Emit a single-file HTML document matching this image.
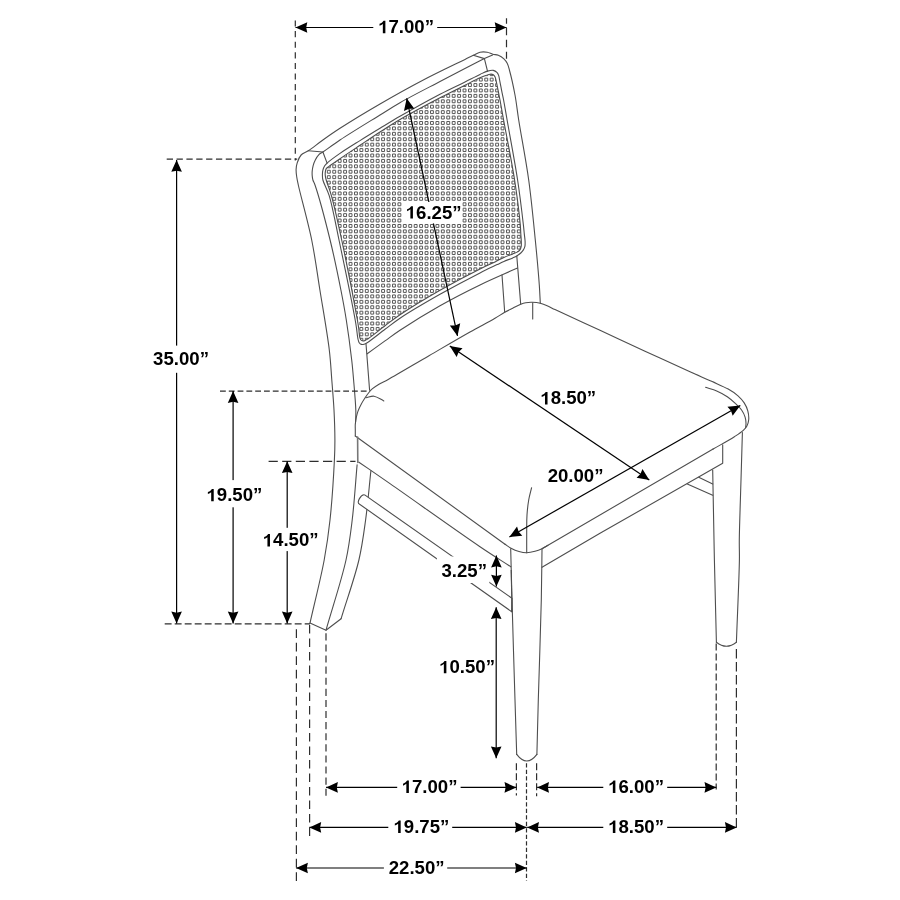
<!DOCTYPE html>
<html><head><meta charset="utf-8"><style>
html,body{margin:0;padding:0;background:#fff;width:900px;height:900px;overflow:hidden}
svg{display:block;font-family:"Liberation Sans",sans-serif;will-change:transform}
</style></head><body>
<svg width="900" height="900" viewBox="0 0 900 900">
<defs>
<clipPath id="cclip"><path d="M328.7,166.6 C331.03,164.88 335.68,161.66 340,158.7 C345.7,154.8 353.33,149.75 360,145.3 C366.66,140.85 373.3,136.32 380,132 C386.64,127.72 392.11,124.1 400,119.5 C410.97,113.11 428.18,103.98 440,97.8 C449.27,92.95 457.72,88.83 465,85.2 C470.63,82.39 475.43,79.73 480,77.8 C483.68,76.25 487.76,74.42 490.2,74.2 C491.51,74.08 492.47,74.22 493.3,74.7 C494.09,75.15 494.62,75.94 495.1,76.9 C495.76,78.23 495.97,80.33 496.4,82.2 C496.88,84.3 497.35,86.67 497.8,88.9 C498.25,91.13 498.7,93.6 499.1,95.6 C499.42,97.22 499.62,98 500,100 C500.82,104.25 502.06,111.55 503.6,120 C506.26,134.64 511.72,161.4 514.6,180 C517.08,196.04 519.46,215.76 520.3,225 C520.67,229.1 520.63,231.05 520.8,233.9 C520.96,236.53 521.25,239.26 521.3,241.5 C521.34,243.28 521.47,244.84 521.2,246.3 C520.96,247.61 520.59,248.92 519.9,249.9 C519.24,250.83 518.26,251.47 517.2,252.1 C515.96,252.84 514.53,253.21 512.8,253.9 C510.35,254.88 506.84,256.08 503.9,257.4 C500.9,258.74 498.37,260.26 495,261.9 C490.66,264.01 486.15,265.83 480,268.9 C469.82,273.98 453.22,282.64 440,290.2 C426.55,297.89 410.02,307.94 400,314.7 C393.68,318.96 390.13,321.94 385,325.8 C379.52,329.92 371.85,336.26 368.1,338.7 C366.36,339.83 365.34,340.7 364.1,340.9 C363.14,341.05 362.09,340.89 361.4,340.4 C360.67,339.89 360.29,338.98 359.9,337.8 C359.22,335.76 359.22,331.86 358.8,328.9 C358.38,325.93 358.18,324.44 357.4,320 C355.04,306.65 346.57,262.73 341.7,240 C338.06,223 334.49,206.56 331.4,195.6 C329.54,189.02 327.17,183.63 326.2,180 C325.69,178.1 325.44,177 325.3,175.6 C325.17,174.35 325.12,173.19 325.3,172 C325.48,170.79 325.77,169.32 326.4,168.4 C326.96,167.59 327.63,167.39 328.7,166.6Z"/></clipPath>
</defs>
<rect width="900" height="900" fill="#fff"/>
<path d="M321.92,170.29h2.9v2.9h-2.9zM321.92,175.71h2.9v2.9h-2.9zM327.35,164.87h2.9v2.9h-2.9zM327.35,170.29h2.9v2.9h-2.9zM327.35,175.71h2.9v2.9h-2.9zM327.35,181.13h2.9v2.9h-2.9zM327.35,186.55h2.9v2.9h-2.9zM327.35,191.97h2.9v2.9h-2.9zM332.78,159.45h2.9v2.9h-2.9zM332.78,164.87h2.9v2.9h-2.9zM332.78,170.29h2.9v2.9h-2.9zM332.78,175.71h2.9v2.9h-2.9zM332.78,181.13h2.9v2.9h-2.9zM332.78,186.55h2.9v2.9h-2.9zM332.78,191.97h2.9v2.9h-2.9zM332.78,197.39h2.9v2.9h-2.9zM332.78,202.81h2.9v2.9h-2.9zM332.78,208.23h2.9v2.9h-2.9zM332.78,213.65h2.9v2.9h-2.9zM332.78,219.07h2.9v2.9h-2.9zM338.21,154.03h2.9v2.9h-2.9zM338.21,159.45h2.9v2.9h-2.9zM338.21,164.87h2.9v2.9h-2.9zM338.21,170.29h2.9v2.9h-2.9zM338.21,175.71h2.9v2.9h-2.9zM338.21,181.13h2.9v2.9h-2.9zM338.21,186.55h2.9v2.9h-2.9zM338.21,191.97h2.9v2.9h-2.9zM338.21,197.39h2.9v2.9h-2.9zM338.21,202.81h2.9v2.9h-2.9zM338.21,208.23h2.9v2.9h-2.9zM338.21,213.65h2.9v2.9h-2.9zM338.21,219.07h2.9v2.9h-2.9zM338.21,224.49h2.9v2.9h-2.9zM338.21,229.91h2.9v2.9h-2.9zM338.21,235.33h2.9v2.9h-2.9zM338.21,240.75h2.9v2.9h-2.9zM343.64,154.03h2.9v2.9h-2.9zM343.64,159.45h2.9v2.9h-2.9zM343.64,164.87h2.9v2.9h-2.9zM343.64,170.29h2.9v2.9h-2.9zM343.64,175.71h2.9v2.9h-2.9zM343.64,181.13h2.9v2.9h-2.9zM343.64,186.55h2.9v2.9h-2.9zM343.64,191.97h2.9v2.9h-2.9zM343.64,197.39h2.9v2.9h-2.9zM343.64,202.81h2.9v2.9h-2.9zM343.64,208.23h2.9v2.9h-2.9zM343.64,213.65h2.9v2.9h-2.9zM343.64,219.07h2.9v2.9h-2.9zM343.64,224.49h2.9v2.9h-2.9zM343.64,229.91h2.9v2.9h-2.9zM343.64,235.33h2.9v2.9h-2.9zM343.64,240.75h2.9v2.9h-2.9zM343.64,246.17h2.9v2.9h-2.9zM343.64,251.59h2.9v2.9h-2.9zM343.64,257.01h2.9v2.9h-2.9zM343.64,262.43h2.9v2.9h-2.9zM343.64,267.85h2.9v2.9h-2.9zM349.07,148.61h2.9v2.9h-2.9zM349.07,154.03h2.9v2.9h-2.9zM349.07,159.45h2.9v2.9h-2.9zM349.07,164.87h2.9v2.9h-2.9zM349.07,170.29h2.9v2.9h-2.9zM349.07,175.71h2.9v2.9h-2.9zM349.07,181.13h2.9v2.9h-2.9zM349.07,186.55h2.9v2.9h-2.9zM349.07,191.97h2.9v2.9h-2.9zM349.07,197.39h2.9v2.9h-2.9zM349.07,202.81h2.9v2.9h-2.9zM349.07,208.23h2.9v2.9h-2.9zM349.07,213.65h2.9v2.9h-2.9zM349.07,219.07h2.9v2.9h-2.9zM349.07,224.49h2.9v2.9h-2.9zM349.07,229.91h2.9v2.9h-2.9zM349.07,235.33h2.9v2.9h-2.9zM349.07,240.75h2.9v2.9h-2.9zM349.07,246.17h2.9v2.9h-2.9zM349.07,251.59h2.9v2.9h-2.9zM349.07,257.01h2.9v2.9h-2.9zM349.07,262.43h2.9v2.9h-2.9zM349.07,267.85h2.9v2.9h-2.9zM349.07,273.27h2.9v2.9h-2.9zM349.07,278.69h2.9v2.9h-2.9zM349.07,284.11h2.9v2.9h-2.9zM349.07,289.53h2.9v2.9h-2.9zM349.07,294.95h2.9v2.9h-2.9zM354.5,143.19h2.9v2.9h-2.9zM354.5,148.61h2.9v2.9h-2.9zM354.5,154.03h2.9v2.9h-2.9zM354.5,159.45h2.9v2.9h-2.9zM354.5,164.87h2.9v2.9h-2.9zM354.5,170.29h2.9v2.9h-2.9zM354.5,175.71h2.9v2.9h-2.9zM354.5,181.13h2.9v2.9h-2.9zM354.5,186.55h2.9v2.9h-2.9zM354.5,191.97h2.9v2.9h-2.9zM354.5,197.39h2.9v2.9h-2.9zM354.5,202.81h2.9v2.9h-2.9zM354.5,208.23h2.9v2.9h-2.9zM354.5,213.65h2.9v2.9h-2.9zM354.5,219.07h2.9v2.9h-2.9zM354.5,224.49h2.9v2.9h-2.9zM354.5,229.91h2.9v2.9h-2.9zM354.5,235.33h2.9v2.9h-2.9zM354.5,240.75h2.9v2.9h-2.9zM354.5,246.17h2.9v2.9h-2.9zM354.5,251.59h2.9v2.9h-2.9zM354.5,257.01h2.9v2.9h-2.9zM354.5,262.43h2.9v2.9h-2.9zM354.5,267.85h2.9v2.9h-2.9zM354.5,273.27h2.9v2.9h-2.9zM354.5,278.69h2.9v2.9h-2.9zM354.5,284.11h2.9v2.9h-2.9zM354.5,289.53h2.9v2.9h-2.9zM354.5,294.95h2.9v2.9h-2.9zM354.5,300.37h2.9v2.9h-2.9zM354.5,305.79h2.9v2.9h-2.9zM354.5,311.21h2.9v2.9h-2.9zM354.5,316.63h2.9v2.9h-2.9zM354.5,322.05h2.9v2.9h-2.9zM354.5,327.47h2.9v2.9h-2.9zM359.92,143.19h2.9v2.9h-2.9zM359.92,148.61h2.9v2.9h-2.9zM359.92,154.03h2.9v2.9h-2.9zM359.92,159.45h2.9v2.9h-2.9zM359.92,164.87h2.9v2.9h-2.9zM359.92,170.29h2.9v2.9h-2.9zM359.92,175.71h2.9v2.9h-2.9zM359.92,181.13h2.9v2.9h-2.9zM359.92,186.55h2.9v2.9h-2.9zM359.92,191.97h2.9v2.9h-2.9zM359.92,197.39h2.9v2.9h-2.9zM359.92,202.81h2.9v2.9h-2.9zM359.92,208.23h2.9v2.9h-2.9zM359.92,213.65h2.9v2.9h-2.9zM359.92,219.07h2.9v2.9h-2.9zM359.92,224.49h2.9v2.9h-2.9zM359.92,229.91h2.9v2.9h-2.9zM359.92,235.33h2.9v2.9h-2.9zM359.92,240.75h2.9v2.9h-2.9zM359.92,246.17h2.9v2.9h-2.9zM359.92,251.59h2.9v2.9h-2.9zM359.92,257.01h2.9v2.9h-2.9zM359.92,262.43h2.9v2.9h-2.9zM359.92,267.85h2.9v2.9h-2.9zM359.92,273.27h2.9v2.9h-2.9zM359.92,278.69h2.9v2.9h-2.9zM359.92,284.11h2.9v2.9h-2.9zM359.92,289.53h2.9v2.9h-2.9zM359.92,294.95h2.9v2.9h-2.9zM359.92,300.37h2.9v2.9h-2.9zM359.92,305.79h2.9v2.9h-2.9zM359.92,311.21h2.9v2.9h-2.9zM359.92,316.63h2.9v2.9h-2.9zM359.92,322.05h2.9v2.9h-2.9zM359.92,327.47h2.9v2.9h-2.9zM359.92,332.89h2.9v2.9h-2.9zM359.92,338.31h2.9v2.9h-2.9zM365.35,137.77h2.9v2.9h-2.9zM365.35,143.19h2.9v2.9h-2.9zM365.35,148.61h2.9v2.9h-2.9zM365.35,154.03h2.9v2.9h-2.9zM365.35,159.45h2.9v2.9h-2.9zM365.35,164.87h2.9v2.9h-2.9zM365.35,170.29h2.9v2.9h-2.9zM365.35,175.71h2.9v2.9h-2.9zM365.35,181.13h2.9v2.9h-2.9zM365.35,186.55h2.9v2.9h-2.9zM365.35,191.97h2.9v2.9h-2.9zM365.35,197.39h2.9v2.9h-2.9zM365.35,202.81h2.9v2.9h-2.9zM365.35,208.23h2.9v2.9h-2.9zM365.35,213.65h2.9v2.9h-2.9zM365.35,219.07h2.9v2.9h-2.9zM365.35,224.49h2.9v2.9h-2.9zM365.35,229.91h2.9v2.9h-2.9zM365.35,235.33h2.9v2.9h-2.9zM365.35,240.75h2.9v2.9h-2.9zM365.35,246.17h2.9v2.9h-2.9zM365.35,251.59h2.9v2.9h-2.9zM365.35,257.01h2.9v2.9h-2.9zM365.35,262.43h2.9v2.9h-2.9zM365.35,267.85h2.9v2.9h-2.9zM365.35,273.27h2.9v2.9h-2.9zM365.35,278.69h2.9v2.9h-2.9zM365.35,284.11h2.9v2.9h-2.9zM365.35,289.53h2.9v2.9h-2.9zM365.35,294.95h2.9v2.9h-2.9zM365.35,300.37h2.9v2.9h-2.9zM365.35,305.79h2.9v2.9h-2.9zM365.35,311.21h2.9v2.9h-2.9zM365.35,316.63h2.9v2.9h-2.9zM365.35,322.05h2.9v2.9h-2.9zM365.35,327.47h2.9v2.9h-2.9zM365.35,332.89h2.9v2.9h-2.9zM365.35,338.31h2.9v2.9h-2.9zM370.78,132.35h2.9v2.9h-2.9zM370.78,137.77h2.9v2.9h-2.9zM370.78,143.19h2.9v2.9h-2.9zM370.78,148.61h2.9v2.9h-2.9zM370.78,154.03h2.9v2.9h-2.9zM370.78,159.45h2.9v2.9h-2.9zM370.78,164.87h2.9v2.9h-2.9zM370.78,170.29h2.9v2.9h-2.9zM370.78,175.71h2.9v2.9h-2.9zM370.78,181.13h2.9v2.9h-2.9zM370.78,186.55h2.9v2.9h-2.9zM370.78,191.97h2.9v2.9h-2.9zM370.78,197.39h2.9v2.9h-2.9zM370.78,202.81h2.9v2.9h-2.9zM370.78,208.23h2.9v2.9h-2.9zM370.78,213.65h2.9v2.9h-2.9zM370.78,219.07h2.9v2.9h-2.9zM370.78,224.49h2.9v2.9h-2.9zM370.78,229.91h2.9v2.9h-2.9zM370.78,235.33h2.9v2.9h-2.9zM370.78,240.75h2.9v2.9h-2.9zM370.78,246.17h2.9v2.9h-2.9zM370.78,251.59h2.9v2.9h-2.9zM370.78,257.01h2.9v2.9h-2.9zM370.78,262.43h2.9v2.9h-2.9zM370.78,267.85h2.9v2.9h-2.9zM370.78,273.27h2.9v2.9h-2.9zM370.78,278.69h2.9v2.9h-2.9zM370.78,284.11h2.9v2.9h-2.9zM370.78,289.53h2.9v2.9h-2.9zM370.78,294.95h2.9v2.9h-2.9zM370.78,300.37h2.9v2.9h-2.9zM370.78,305.79h2.9v2.9h-2.9zM370.78,311.21h2.9v2.9h-2.9zM370.78,316.63h2.9v2.9h-2.9zM370.78,322.05h2.9v2.9h-2.9zM370.78,327.47h2.9v2.9h-2.9zM370.78,332.89h2.9v2.9h-2.9zM370.78,338.31h2.9v2.9h-2.9zM376.21,132.35h2.9v2.9h-2.9zM376.21,137.77h2.9v2.9h-2.9zM376.21,143.19h2.9v2.9h-2.9zM376.21,148.61h2.9v2.9h-2.9zM376.21,154.03h2.9v2.9h-2.9zM376.21,159.45h2.9v2.9h-2.9zM376.21,164.87h2.9v2.9h-2.9zM376.21,170.29h2.9v2.9h-2.9zM376.21,175.71h2.9v2.9h-2.9zM376.21,181.13h2.9v2.9h-2.9zM376.21,186.55h2.9v2.9h-2.9zM376.21,191.97h2.9v2.9h-2.9zM376.21,197.39h2.9v2.9h-2.9zM376.21,202.81h2.9v2.9h-2.9zM376.21,208.23h2.9v2.9h-2.9zM376.21,213.65h2.9v2.9h-2.9zM376.21,219.07h2.9v2.9h-2.9zM376.21,224.49h2.9v2.9h-2.9zM376.21,229.91h2.9v2.9h-2.9zM376.21,235.33h2.9v2.9h-2.9zM376.21,240.75h2.9v2.9h-2.9zM376.21,246.17h2.9v2.9h-2.9zM376.21,251.59h2.9v2.9h-2.9zM376.21,257.01h2.9v2.9h-2.9zM376.21,262.43h2.9v2.9h-2.9zM376.21,267.85h2.9v2.9h-2.9zM376.21,273.27h2.9v2.9h-2.9zM376.21,278.69h2.9v2.9h-2.9zM376.21,284.11h2.9v2.9h-2.9zM376.21,289.53h2.9v2.9h-2.9zM376.21,294.95h2.9v2.9h-2.9zM376.21,300.37h2.9v2.9h-2.9zM376.21,305.79h2.9v2.9h-2.9zM376.21,311.21h2.9v2.9h-2.9zM376.21,316.63h2.9v2.9h-2.9zM376.21,322.05h2.9v2.9h-2.9zM376.21,327.47h2.9v2.9h-2.9zM376.21,332.89h2.9v2.9h-2.9zM381.64,126.93h2.9v2.9h-2.9zM381.64,132.35h2.9v2.9h-2.9zM381.64,137.77h2.9v2.9h-2.9zM381.64,143.19h2.9v2.9h-2.9zM381.64,148.61h2.9v2.9h-2.9zM381.64,154.03h2.9v2.9h-2.9zM381.64,159.45h2.9v2.9h-2.9zM381.64,164.87h2.9v2.9h-2.9zM381.64,170.29h2.9v2.9h-2.9zM381.64,175.71h2.9v2.9h-2.9zM381.64,181.13h2.9v2.9h-2.9zM381.64,186.55h2.9v2.9h-2.9zM381.64,191.97h2.9v2.9h-2.9zM381.64,197.39h2.9v2.9h-2.9zM381.64,202.81h2.9v2.9h-2.9zM381.64,208.23h2.9v2.9h-2.9zM381.64,213.65h2.9v2.9h-2.9zM381.64,219.07h2.9v2.9h-2.9zM381.64,224.49h2.9v2.9h-2.9zM381.64,229.91h2.9v2.9h-2.9zM381.64,235.33h2.9v2.9h-2.9zM381.64,240.75h2.9v2.9h-2.9zM381.64,246.17h2.9v2.9h-2.9zM381.64,251.59h2.9v2.9h-2.9zM381.64,257.01h2.9v2.9h-2.9zM381.64,262.43h2.9v2.9h-2.9zM381.64,267.85h2.9v2.9h-2.9zM381.64,273.27h2.9v2.9h-2.9zM381.64,278.69h2.9v2.9h-2.9zM381.64,284.11h2.9v2.9h-2.9zM381.64,289.53h2.9v2.9h-2.9zM381.64,294.95h2.9v2.9h-2.9zM381.64,300.37h2.9v2.9h-2.9zM381.64,305.79h2.9v2.9h-2.9zM381.64,311.21h2.9v2.9h-2.9zM381.64,316.63h2.9v2.9h-2.9zM381.64,322.05h2.9v2.9h-2.9zM381.64,327.47h2.9v2.9h-2.9zM387.07,121.51h2.9v2.9h-2.9zM387.07,126.93h2.9v2.9h-2.9zM387.07,132.35h2.9v2.9h-2.9zM387.07,137.77h2.9v2.9h-2.9zM387.07,143.19h2.9v2.9h-2.9zM387.07,148.61h2.9v2.9h-2.9zM387.07,154.03h2.9v2.9h-2.9zM387.07,159.45h2.9v2.9h-2.9zM387.07,164.87h2.9v2.9h-2.9zM387.07,170.29h2.9v2.9h-2.9zM387.07,175.71h2.9v2.9h-2.9zM387.07,181.13h2.9v2.9h-2.9zM387.07,186.55h2.9v2.9h-2.9zM387.07,191.97h2.9v2.9h-2.9zM387.07,197.39h2.9v2.9h-2.9zM387.07,202.81h2.9v2.9h-2.9zM387.07,208.23h2.9v2.9h-2.9zM387.07,213.65h2.9v2.9h-2.9zM387.07,219.07h2.9v2.9h-2.9zM387.07,224.49h2.9v2.9h-2.9zM387.07,229.91h2.9v2.9h-2.9zM387.07,235.33h2.9v2.9h-2.9zM387.07,240.75h2.9v2.9h-2.9zM387.07,246.17h2.9v2.9h-2.9zM387.07,251.59h2.9v2.9h-2.9zM387.07,257.01h2.9v2.9h-2.9zM387.07,262.43h2.9v2.9h-2.9zM387.07,267.85h2.9v2.9h-2.9zM387.07,273.27h2.9v2.9h-2.9zM387.07,278.69h2.9v2.9h-2.9zM387.07,284.11h2.9v2.9h-2.9zM387.07,289.53h2.9v2.9h-2.9zM387.07,294.95h2.9v2.9h-2.9zM387.07,300.37h2.9v2.9h-2.9zM387.07,305.79h2.9v2.9h-2.9zM387.07,311.21h2.9v2.9h-2.9zM387.07,316.63h2.9v2.9h-2.9zM387.07,322.05h2.9v2.9h-2.9zM392.5,121.51h2.9v2.9h-2.9zM392.5,126.93h2.9v2.9h-2.9zM392.5,132.35h2.9v2.9h-2.9zM392.5,137.77h2.9v2.9h-2.9zM392.5,143.19h2.9v2.9h-2.9zM392.5,148.61h2.9v2.9h-2.9zM392.5,154.03h2.9v2.9h-2.9zM392.5,159.45h2.9v2.9h-2.9zM392.5,164.87h2.9v2.9h-2.9zM392.5,170.29h2.9v2.9h-2.9zM392.5,175.71h2.9v2.9h-2.9zM392.5,181.13h2.9v2.9h-2.9zM392.5,186.55h2.9v2.9h-2.9zM392.5,191.97h2.9v2.9h-2.9zM392.5,197.39h2.9v2.9h-2.9zM392.5,202.81h2.9v2.9h-2.9zM392.5,208.23h2.9v2.9h-2.9zM392.5,213.65h2.9v2.9h-2.9zM392.5,219.07h2.9v2.9h-2.9zM392.5,224.49h2.9v2.9h-2.9zM392.5,229.91h2.9v2.9h-2.9zM392.5,235.33h2.9v2.9h-2.9zM392.5,240.75h2.9v2.9h-2.9zM392.5,246.17h2.9v2.9h-2.9zM392.5,251.59h2.9v2.9h-2.9zM392.5,257.01h2.9v2.9h-2.9zM392.5,262.43h2.9v2.9h-2.9zM392.5,267.85h2.9v2.9h-2.9zM392.5,273.27h2.9v2.9h-2.9zM392.5,278.69h2.9v2.9h-2.9zM392.5,284.11h2.9v2.9h-2.9zM392.5,289.53h2.9v2.9h-2.9zM392.5,294.95h2.9v2.9h-2.9zM392.5,300.37h2.9v2.9h-2.9zM392.5,305.79h2.9v2.9h-2.9zM392.5,311.21h2.9v2.9h-2.9zM392.5,316.63h2.9v2.9h-2.9zM392.5,322.05h2.9v2.9h-2.9zM397.93,116.09h2.9v2.9h-2.9zM397.93,121.51h2.9v2.9h-2.9zM397.93,126.93h2.9v2.9h-2.9zM397.93,132.35h2.9v2.9h-2.9zM397.93,137.77h2.9v2.9h-2.9zM397.93,143.19h2.9v2.9h-2.9zM397.93,148.61h2.9v2.9h-2.9zM397.93,154.03h2.9v2.9h-2.9zM397.93,159.45h2.9v2.9h-2.9zM397.93,164.87h2.9v2.9h-2.9zM397.93,170.29h2.9v2.9h-2.9zM397.93,175.71h2.9v2.9h-2.9zM397.93,181.13h2.9v2.9h-2.9zM397.93,186.55h2.9v2.9h-2.9zM397.93,191.97h2.9v2.9h-2.9zM397.93,197.39h2.9v2.9h-2.9zM397.93,202.81h2.9v2.9h-2.9zM397.93,208.23h2.9v2.9h-2.9zM397.93,213.65h2.9v2.9h-2.9zM397.93,219.07h2.9v2.9h-2.9zM397.93,224.49h2.9v2.9h-2.9zM397.93,229.91h2.9v2.9h-2.9zM397.93,235.33h2.9v2.9h-2.9zM397.93,240.75h2.9v2.9h-2.9zM397.93,246.17h2.9v2.9h-2.9zM397.93,251.59h2.9v2.9h-2.9zM397.93,257.01h2.9v2.9h-2.9zM397.93,262.43h2.9v2.9h-2.9zM397.93,267.85h2.9v2.9h-2.9zM397.93,273.27h2.9v2.9h-2.9zM397.93,278.69h2.9v2.9h-2.9zM397.93,284.11h2.9v2.9h-2.9zM397.93,289.53h2.9v2.9h-2.9zM397.93,294.95h2.9v2.9h-2.9zM397.93,300.37h2.9v2.9h-2.9zM397.93,305.79h2.9v2.9h-2.9zM397.93,311.21h2.9v2.9h-2.9zM397.93,316.63h2.9v2.9h-2.9zM403.36,116.09h2.9v2.9h-2.9zM403.36,121.51h2.9v2.9h-2.9zM403.36,126.93h2.9v2.9h-2.9zM403.36,132.35h2.9v2.9h-2.9zM403.36,137.77h2.9v2.9h-2.9zM403.36,143.19h2.9v2.9h-2.9zM403.36,148.61h2.9v2.9h-2.9zM403.36,154.03h2.9v2.9h-2.9zM403.36,159.45h2.9v2.9h-2.9zM403.36,164.87h2.9v2.9h-2.9zM403.36,170.29h2.9v2.9h-2.9zM403.36,175.71h2.9v2.9h-2.9zM403.36,181.13h2.9v2.9h-2.9zM403.36,186.55h2.9v2.9h-2.9zM403.36,191.97h2.9v2.9h-2.9zM403.36,197.39h2.9v2.9h-2.9zM403.36,202.81h2.9v2.9h-2.9zM403.36,208.23h2.9v2.9h-2.9zM403.36,213.65h2.9v2.9h-2.9zM403.36,219.07h2.9v2.9h-2.9zM403.36,224.49h2.9v2.9h-2.9zM403.36,229.91h2.9v2.9h-2.9zM403.36,235.33h2.9v2.9h-2.9zM403.36,240.75h2.9v2.9h-2.9zM403.36,246.17h2.9v2.9h-2.9zM403.36,251.59h2.9v2.9h-2.9zM403.36,257.01h2.9v2.9h-2.9zM403.36,262.43h2.9v2.9h-2.9zM403.36,267.85h2.9v2.9h-2.9zM403.36,273.27h2.9v2.9h-2.9zM403.36,278.69h2.9v2.9h-2.9zM403.36,284.11h2.9v2.9h-2.9zM403.36,289.53h2.9v2.9h-2.9zM403.36,294.95h2.9v2.9h-2.9zM403.36,300.37h2.9v2.9h-2.9zM403.36,305.79h2.9v2.9h-2.9zM403.36,311.21h2.9v2.9h-2.9zM408.79,110.67h2.9v2.9h-2.9zM408.79,116.09h2.9v2.9h-2.9zM408.79,121.51h2.9v2.9h-2.9zM408.79,126.93h2.9v2.9h-2.9zM408.79,132.35h2.9v2.9h-2.9zM408.79,137.77h2.9v2.9h-2.9zM408.79,143.19h2.9v2.9h-2.9zM408.79,148.61h2.9v2.9h-2.9zM408.79,154.03h2.9v2.9h-2.9zM408.79,159.45h2.9v2.9h-2.9zM408.79,164.87h2.9v2.9h-2.9zM408.79,170.29h2.9v2.9h-2.9zM408.79,175.71h2.9v2.9h-2.9zM408.79,181.13h2.9v2.9h-2.9zM408.79,186.55h2.9v2.9h-2.9zM408.79,191.97h2.9v2.9h-2.9zM408.79,197.39h2.9v2.9h-2.9zM408.79,202.81h2.9v2.9h-2.9zM408.79,208.23h2.9v2.9h-2.9zM408.79,213.65h2.9v2.9h-2.9zM408.79,219.07h2.9v2.9h-2.9zM408.79,224.49h2.9v2.9h-2.9zM408.79,229.91h2.9v2.9h-2.9zM408.79,235.33h2.9v2.9h-2.9zM408.79,240.75h2.9v2.9h-2.9zM408.79,246.17h2.9v2.9h-2.9zM408.79,251.59h2.9v2.9h-2.9zM408.79,257.01h2.9v2.9h-2.9zM408.79,262.43h2.9v2.9h-2.9zM408.79,267.85h2.9v2.9h-2.9zM408.79,273.27h2.9v2.9h-2.9zM408.79,278.69h2.9v2.9h-2.9zM408.79,284.11h2.9v2.9h-2.9zM408.79,289.53h2.9v2.9h-2.9zM408.79,294.95h2.9v2.9h-2.9zM408.79,300.37h2.9v2.9h-2.9zM408.79,305.79h2.9v2.9h-2.9zM414.21,110.67h2.9v2.9h-2.9zM414.21,116.09h2.9v2.9h-2.9zM414.21,121.51h2.9v2.9h-2.9zM414.21,126.93h2.9v2.9h-2.9zM414.21,132.35h2.9v2.9h-2.9zM414.21,137.77h2.9v2.9h-2.9zM414.21,143.19h2.9v2.9h-2.9zM414.21,148.61h2.9v2.9h-2.9zM414.21,154.03h2.9v2.9h-2.9zM414.21,159.45h2.9v2.9h-2.9zM414.21,164.87h2.9v2.9h-2.9zM414.21,170.29h2.9v2.9h-2.9zM414.21,175.71h2.9v2.9h-2.9zM414.21,181.13h2.9v2.9h-2.9zM414.21,186.55h2.9v2.9h-2.9zM414.21,191.97h2.9v2.9h-2.9zM414.21,197.39h2.9v2.9h-2.9zM414.21,202.81h2.9v2.9h-2.9zM414.21,208.23h2.9v2.9h-2.9zM414.21,213.65h2.9v2.9h-2.9zM414.21,219.07h2.9v2.9h-2.9zM414.21,224.49h2.9v2.9h-2.9zM414.21,229.91h2.9v2.9h-2.9zM414.21,235.33h2.9v2.9h-2.9zM414.21,240.75h2.9v2.9h-2.9zM414.21,246.17h2.9v2.9h-2.9zM414.21,251.59h2.9v2.9h-2.9zM414.21,257.01h2.9v2.9h-2.9zM414.21,262.43h2.9v2.9h-2.9zM414.21,267.85h2.9v2.9h-2.9zM414.21,273.27h2.9v2.9h-2.9zM414.21,278.69h2.9v2.9h-2.9zM414.21,284.11h2.9v2.9h-2.9zM414.21,289.53h2.9v2.9h-2.9zM414.21,294.95h2.9v2.9h-2.9zM414.21,300.37h2.9v2.9h-2.9zM414.21,305.79h2.9v2.9h-2.9zM419.64,105.25h2.9v2.9h-2.9zM419.64,110.67h2.9v2.9h-2.9zM419.64,116.09h2.9v2.9h-2.9zM419.64,121.51h2.9v2.9h-2.9zM419.64,126.93h2.9v2.9h-2.9zM419.64,132.35h2.9v2.9h-2.9zM419.64,137.77h2.9v2.9h-2.9zM419.64,143.19h2.9v2.9h-2.9zM419.64,148.61h2.9v2.9h-2.9zM419.64,154.03h2.9v2.9h-2.9zM419.64,159.45h2.9v2.9h-2.9zM419.64,164.87h2.9v2.9h-2.9zM419.64,170.29h2.9v2.9h-2.9zM419.64,175.71h2.9v2.9h-2.9zM419.64,181.13h2.9v2.9h-2.9zM419.64,186.55h2.9v2.9h-2.9zM419.64,191.97h2.9v2.9h-2.9zM419.64,197.39h2.9v2.9h-2.9zM419.64,202.81h2.9v2.9h-2.9zM419.64,208.23h2.9v2.9h-2.9zM419.64,213.65h2.9v2.9h-2.9zM419.64,219.07h2.9v2.9h-2.9zM419.64,224.49h2.9v2.9h-2.9zM419.64,229.91h2.9v2.9h-2.9zM419.64,235.33h2.9v2.9h-2.9zM419.64,240.75h2.9v2.9h-2.9zM419.64,246.17h2.9v2.9h-2.9zM419.64,251.59h2.9v2.9h-2.9zM419.64,257.01h2.9v2.9h-2.9zM419.64,262.43h2.9v2.9h-2.9zM419.64,267.85h2.9v2.9h-2.9zM419.64,273.27h2.9v2.9h-2.9zM419.64,278.69h2.9v2.9h-2.9zM419.64,284.11h2.9v2.9h-2.9zM419.64,289.53h2.9v2.9h-2.9zM419.64,294.95h2.9v2.9h-2.9zM419.64,300.37h2.9v2.9h-2.9zM425.07,99.83h2.9v2.9h-2.9zM425.07,105.25h2.9v2.9h-2.9zM425.07,110.67h2.9v2.9h-2.9zM425.07,116.09h2.9v2.9h-2.9zM425.07,121.51h2.9v2.9h-2.9zM425.07,126.93h2.9v2.9h-2.9zM425.07,132.35h2.9v2.9h-2.9zM425.07,137.77h2.9v2.9h-2.9zM425.07,143.19h2.9v2.9h-2.9zM425.07,148.61h2.9v2.9h-2.9zM425.07,154.03h2.9v2.9h-2.9zM425.07,159.45h2.9v2.9h-2.9zM425.07,164.87h2.9v2.9h-2.9zM425.07,170.29h2.9v2.9h-2.9zM425.07,175.71h2.9v2.9h-2.9zM425.07,181.13h2.9v2.9h-2.9zM425.07,186.55h2.9v2.9h-2.9zM425.07,191.97h2.9v2.9h-2.9zM425.07,197.39h2.9v2.9h-2.9zM425.07,202.81h2.9v2.9h-2.9zM425.07,208.23h2.9v2.9h-2.9zM425.07,213.65h2.9v2.9h-2.9zM425.07,219.07h2.9v2.9h-2.9zM425.07,224.49h2.9v2.9h-2.9zM425.07,229.91h2.9v2.9h-2.9zM425.07,235.33h2.9v2.9h-2.9zM425.07,240.75h2.9v2.9h-2.9zM425.07,246.17h2.9v2.9h-2.9zM425.07,251.59h2.9v2.9h-2.9zM425.07,257.01h2.9v2.9h-2.9zM425.07,262.43h2.9v2.9h-2.9zM425.07,267.85h2.9v2.9h-2.9zM425.07,273.27h2.9v2.9h-2.9zM425.07,278.69h2.9v2.9h-2.9zM425.07,284.11h2.9v2.9h-2.9zM425.07,289.53h2.9v2.9h-2.9zM425.07,294.95h2.9v2.9h-2.9zM425.07,300.37h2.9v2.9h-2.9zM430.5,99.83h2.9v2.9h-2.9zM430.5,105.25h2.9v2.9h-2.9zM430.5,110.67h2.9v2.9h-2.9zM430.5,116.09h2.9v2.9h-2.9zM430.5,121.51h2.9v2.9h-2.9zM430.5,126.93h2.9v2.9h-2.9zM430.5,132.35h2.9v2.9h-2.9zM430.5,137.77h2.9v2.9h-2.9zM430.5,143.19h2.9v2.9h-2.9zM430.5,148.61h2.9v2.9h-2.9zM430.5,154.03h2.9v2.9h-2.9zM430.5,159.45h2.9v2.9h-2.9zM430.5,164.87h2.9v2.9h-2.9zM430.5,170.29h2.9v2.9h-2.9zM430.5,175.71h2.9v2.9h-2.9zM430.5,181.13h2.9v2.9h-2.9zM430.5,186.55h2.9v2.9h-2.9zM430.5,191.97h2.9v2.9h-2.9zM430.5,197.39h2.9v2.9h-2.9zM430.5,202.81h2.9v2.9h-2.9zM430.5,208.23h2.9v2.9h-2.9zM430.5,213.65h2.9v2.9h-2.9zM430.5,219.07h2.9v2.9h-2.9zM430.5,224.49h2.9v2.9h-2.9zM430.5,229.91h2.9v2.9h-2.9zM430.5,235.33h2.9v2.9h-2.9zM430.5,240.75h2.9v2.9h-2.9zM430.5,246.17h2.9v2.9h-2.9zM430.5,251.59h2.9v2.9h-2.9zM430.5,257.01h2.9v2.9h-2.9zM430.5,262.43h2.9v2.9h-2.9zM430.5,267.85h2.9v2.9h-2.9zM430.5,273.27h2.9v2.9h-2.9zM430.5,278.69h2.9v2.9h-2.9zM430.5,284.11h2.9v2.9h-2.9zM430.5,289.53h2.9v2.9h-2.9zM430.5,294.95h2.9v2.9h-2.9zM435.93,94.41h2.9v2.9h-2.9zM435.93,99.83h2.9v2.9h-2.9zM435.93,105.25h2.9v2.9h-2.9zM435.93,110.67h2.9v2.9h-2.9zM435.93,116.09h2.9v2.9h-2.9zM435.93,121.51h2.9v2.9h-2.9zM435.93,126.93h2.9v2.9h-2.9zM435.93,132.35h2.9v2.9h-2.9zM435.93,137.77h2.9v2.9h-2.9zM435.93,143.19h2.9v2.9h-2.9zM435.93,148.61h2.9v2.9h-2.9zM435.93,154.03h2.9v2.9h-2.9zM435.93,159.45h2.9v2.9h-2.9zM435.93,164.87h2.9v2.9h-2.9zM435.93,170.29h2.9v2.9h-2.9zM435.93,175.71h2.9v2.9h-2.9zM435.93,181.13h2.9v2.9h-2.9zM435.93,186.55h2.9v2.9h-2.9zM435.93,191.97h2.9v2.9h-2.9zM435.93,197.39h2.9v2.9h-2.9zM435.93,202.81h2.9v2.9h-2.9zM435.93,208.23h2.9v2.9h-2.9zM435.93,213.65h2.9v2.9h-2.9zM435.93,219.07h2.9v2.9h-2.9zM435.93,224.49h2.9v2.9h-2.9zM435.93,229.91h2.9v2.9h-2.9zM435.93,235.33h2.9v2.9h-2.9zM435.93,240.75h2.9v2.9h-2.9zM435.93,246.17h2.9v2.9h-2.9zM435.93,251.59h2.9v2.9h-2.9zM435.93,257.01h2.9v2.9h-2.9zM435.93,262.43h2.9v2.9h-2.9zM435.93,267.85h2.9v2.9h-2.9zM435.93,273.27h2.9v2.9h-2.9zM435.93,278.69h2.9v2.9h-2.9zM435.93,284.11h2.9v2.9h-2.9zM435.93,289.53h2.9v2.9h-2.9zM441.36,94.41h2.9v2.9h-2.9zM441.36,99.83h2.9v2.9h-2.9zM441.36,105.25h2.9v2.9h-2.9zM441.36,110.67h2.9v2.9h-2.9zM441.36,116.09h2.9v2.9h-2.9zM441.36,121.51h2.9v2.9h-2.9zM441.36,126.93h2.9v2.9h-2.9zM441.36,132.35h2.9v2.9h-2.9zM441.36,137.77h2.9v2.9h-2.9zM441.36,143.19h2.9v2.9h-2.9zM441.36,148.61h2.9v2.9h-2.9zM441.36,154.03h2.9v2.9h-2.9zM441.36,159.45h2.9v2.9h-2.9zM441.36,164.87h2.9v2.9h-2.9zM441.36,170.29h2.9v2.9h-2.9zM441.36,175.71h2.9v2.9h-2.9zM441.36,181.13h2.9v2.9h-2.9zM441.36,186.55h2.9v2.9h-2.9zM441.36,191.97h2.9v2.9h-2.9zM441.36,197.39h2.9v2.9h-2.9zM441.36,202.81h2.9v2.9h-2.9zM441.36,208.23h2.9v2.9h-2.9zM441.36,213.65h2.9v2.9h-2.9zM441.36,219.07h2.9v2.9h-2.9zM441.36,224.49h2.9v2.9h-2.9zM441.36,229.91h2.9v2.9h-2.9zM441.36,235.33h2.9v2.9h-2.9zM441.36,240.75h2.9v2.9h-2.9zM441.36,246.17h2.9v2.9h-2.9zM441.36,251.59h2.9v2.9h-2.9zM441.36,257.01h2.9v2.9h-2.9zM441.36,262.43h2.9v2.9h-2.9zM441.36,267.85h2.9v2.9h-2.9zM441.36,273.27h2.9v2.9h-2.9zM441.36,278.69h2.9v2.9h-2.9zM441.36,284.11h2.9v2.9h-2.9zM441.36,289.53h2.9v2.9h-2.9zM446.79,88.99h2.9v2.9h-2.9zM446.79,94.41h2.9v2.9h-2.9zM446.79,99.83h2.9v2.9h-2.9zM446.79,105.25h2.9v2.9h-2.9zM446.79,110.67h2.9v2.9h-2.9zM446.79,116.09h2.9v2.9h-2.9zM446.79,121.51h2.9v2.9h-2.9zM446.79,126.93h2.9v2.9h-2.9zM446.79,132.35h2.9v2.9h-2.9zM446.79,137.77h2.9v2.9h-2.9zM446.79,143.19h2.9v2.9h-2.9zM446.79,148.61h2.9v2.9h-2.9zM446.79,154.03h2.9v2.9h-2.9zM446.79,159.45h2.9v2.9h-2.9zM446.79,164.87h2.9v2.9h-2.9zM446.79,170.29h2.9v2.9h-2.9zM446.79,175.71h2.9v2.9h-2.9zM446.79,181.13h2.9v2.9h-2.9zM446.79,186.55h2.9v2.9h-2.9zM446.79,191.97h2.9v2.9h-2.9zM446.79,197.39h2.9v2.9h-2.9zM446.79,202.81h2.9v2.9h-2.9zM446.79,208.23h2.9v2.9h-2.9zM446.79,213.65h2.9v2.9h-2.9zM446.79,219.07h2.9v2.9h-2.9zM446.79,224.49h2.9v2.9h-2.9zM446.79,229.91h2.9v2.9h-2.9zM446.79,235.33h2.9v2.9h-2.9zM446.79,240.75h2.9v2.9h-2.9zM446.79,246.17h2.9v2.9h-2.9zM446.79,251.59h2.9v2.9h-2.9zM446.79,257.01h2.9v2.9h-2.9zM446.79,262.43h2.9v2.9h-2.9zM446.79,267.85h2.9v2.9h-2.9zM446.79,273.27h2.9v2.9h-2.9zM446.79,278.69h2.9v2.9h-2.9zM446.79,284.11h2.9v2.9h-2.9zM452.22,88.99h2.9v2.9h-2.9zM452.22,94.41h2.9v2.9h-2.9zM452.22,99.83h2.9v2.9h-2.9zM452.22,105.25h2.9v2.9h-2.9zM452.22,110.67h2.9v2.9h-2.9zM452.22,116.09h2.9v2.9h-2.9zM452.22,121.51h2.9v2.9h-2.9zM452.22,126.93h2.9v2.9h-2.9zM452.22,132.35h2.9v2.9h-2.9zM452.22,137.77h2.9v2.9h-2.9zM452.22,143.19h2.9v2.9h-2.9zM452.22,148.61h2.9v2.9h-2.9zM452.22,154.03h2.9v2.9h-2.9zM452.22,159.45h2.9v2.9h-2.9zM452.22,164.87h2.9v2.9h-2.9zM452.22,170.29h2.9v2.9h-2.9zM452.22,175.71h2.9v2.9h-2.9zM452.22,181.13h2.9v2.9h-2.9zM452.22,186.55h2.9v2.9h-2.9zM452.22,191.97h2.9v2.9h-2.9zM452.22,197.39h2.9v2.9h-2.9zM452.22,202.81h2.9v2.9h-2.9zM452.22,208.23h2.9v2.9h-2.9zM452.22,213.65h2.9v2.9h-2.9zM452.22,219.07h2.9v2.9h-2.9zM452.22,224.49h2.9v2.9h-2.9zM452.22,229.91h2.9v2.9h-2.9zM452.22,235.33h2.9v2.9h-2.9zM452.22,240.75h2.9v2.9h-2.9zM452.22,246.17h2.9v2.9h-2.9zM452.22,251.59h2.9v2.9h-2.9zM452.22,257.01h2.9v2.9h-2.9zM452.22,262.43h2.9v2.9h-2.9zM452.22,267.85h2.9v2.9h-2.9zM452.22,273.27h2.9v2.9h-2.9zM452.22,278.69h2.9v2.9h-2.9zM452.22,284.11h2.9v2.9h-2.9zM457.65,83.57h2.9v2.9h-2.9zM457.65,88.99h2.9v2.9h-2.9zM457.65,94.41h2.9v2.9h-2.9zM457.65,99.83h2.9v2.9h-2.9zM457.65,105.25h2.9v2.9h-2.9zM457.65,110.67h2.9v2.9h-2.9zM457.65,116.09h2.9v2.9h-2.9zM457.65,121.51h2.9v2.9h-2.9zM457.65,126.93h2.9v2.9h-2.9zM457.65,132.35h2.9v2.9h-2.9zM457.65,137.77h2.9v2.9h-2.9zM457.65,143.19h2.9v2.9h-2.9zM457.65,148.61h2.9v2.9h-2.9zM457.65,154.03h2.9v2.9h-2.9zM457.65,159.45h2.9v2.9h-2.9zM457.65,164.87h2.9v2.9h-2.9zM457.65,170.29h2.9v2.9h-2.9zM457.65,175.71h2.9v2.9h-2.9zM457.65,181.13h2.9v2.9h-2.9zM457.65,186.55h2.9v2.9h-2.9zM457.65,191.97h2.9v2.9h-2.9zM457.65,197.39h2.9v2.9h-2.9zM457.65,202.81h2.9v2.9h-2.9zM457.65,208.23h2.9v2.9h-2.9zM457.65,213.65h2.9v2.9h-2.9zM457.65,219.07h2.9v2.9h-2.9zM457.65,224.49h2.9v2.9h-2.9zM457.65,229.91h2.9v2.9h-2.9zM457.65,235.33h2.9v2.9h-2.9zM457.65,240.75h2.9v2.9h-2.9zM457.65,246.17h2.9v2.9h-2.9zM457.65,251.59h2.9v2.9h-2.9zM457.65,257.01h2.9v2.9h-2.9zM457.65,262.43h2.9v2.9h-2.9zM457.65,267.85h2.9v2.9h-2.9zM457.65,273.27h2.9v2.9h-2.9zM457.65,278.69h2.9v2.9h-2.9zM463.07,83.57h2.9v2.9h-2.9zM463.07,88.99h2.9v2.9h-2.9zM463.07,94.41h2.9v2.9h-2.9zM463.07,99.83h2.9v2.9h-2.9zM463.07,105.25h2.9v2.9h-2.9zM463.07,110.67h2.9v2.9h-2.9zM463.07,116.09h2.9v2.9h-2.9zM463.07,121.51h2.9v2.9h-2.9zM463.07,126.93h2.9v2.9h-2.9zM463.07,132.35h2.9v2.9h-2.9zM463.07,137.77h2.9v2.9h-2.9zM463.07,143.19h2.9v2.9h-2.9zM463.07,148.61h2.9v2.9h-2.9zM463.07,154.03h2.9v2.9h-2.9zM463.07,159.45h2.9v2.9h-2.9zM463.07,164.87h2.9v2.9h-2.9zM463.07,170.29h2.9v2.9h-2.9zM463.07,175.71h2.9v2.9h-2.9zM463.07,181.13h2.9v2.9h-2.9zM463.07,186.55h2.9v2.9h-2.9zM463.07,191.97h2.9v2.9h-2.9zM463.07,197.39h2.9v2.9h-2.9zM463.07,202.81h2.9v2.9h-2.9zM463.07,208.23h2.9v2.9h-2.9zM463.07,213.65h2.9v2.9h-2.9zM463.07,219.07h2.9v2.9h-2.9zM463.07,224.49h2.9v2.9h-2.9zM463.07,229.91h2.9v2.9h-2.9zM463.07,235.33h2.9v2.9h-2.9zM463.07,240.75h2.9v2.9h-2.9zM463.07,246.17h2.9v2.9h-2.9zM463.07,251.59h2.9v2.9h-2.9zM463.07,257.01h2.9v2.9h-2.9zM463.07,262.43h2.9v2.9h-2.9zM463.07,267.85h2.9v2.9h-2.9zM463.07,273.27h2.9v2.9h-2.9zM463.07,278.69h2.9v2.9h-2.9zM468.5,78.15h2.9v2.9h-2.9zM468.5,83.57h2.9v2.9h-2.9zM468.5,88.99h2.9v2.9h-2.9zM468.5,94.41h2.9v2.9h-2.9zM468.5,99.83h2.9v2.9h-2.9zM468.5,105.25h2.9v2.9h-2.9zM468.5,110.67h2.9v2.9h-2.9zM468.5,116.09h2.9v2.9h-2.9zM468.5,121.51h2.9v2.9h-2.9zM468.5,126.93h2.9v2.9h-2.9zM468.5,132.35h2.9v2.9h-2.9zM468.5,137.77h2.9v2.9h-2.9zM468.5,143.19h2.9v2.9h-2.9zM468.5,148.61h2.9v2.9h-2.9zM468.5,154.03h2.9v2.9h-2.9zM468.5,159.45h2.9v2.9h-2.9zM468.5,164.87h2.9v2.9h-2.9zM468.5,170.29h2.9v2.9h-2.9zM468.5,175.71h2.9v2.9h-2.9zM468.5,181.13h2.9v2.9h-2.9zM468.5,186.55h2.9v2.9h-2.9zM468.5,191.97h2.9v2.9h-2.9zM468.5,197.39h2.9v2.9h-2.9zM468.5,202.81h2.9v2.9h-2.9zM468.5,208.23h2.9v2.9h-2.9zM468.5,213.65h2.9v2.9h-2.9zM468.5,219.07h2.9v2.9h-2.9zM468.5,224.49h2.9v2.9h-2.9zM468.5,229.91h2.9v2.9h-2.9zM468.5,235.33h2.9v2.9h-2.9zM468.5,240.75h2.9v2.9h-2.9zM468.5,246.17h2.9v2.9h-2.9zM468.5,251.59h2.9v2.9h-2.9zM468.5,257.01h2.9v2.9h-2.9zM468.5,262.43h2.9v2.9h-2.9zM468.5,267.85h2.9v2.9h-2.9zM468.5,273.27h2.9v2.9h-2.9zM473.93,78.15h2.9v2.9h-2.9zM473.93,83.57h2.9v2.9h-2.9zM473.93,88.99h2.9v2.9h-2.9zM473.93,94.41h2.9v2.9h-2.9zM473.93,99.83h2.9v2.9h-2.9zM473.93,105.25h2.9v2.9h-2.9zM473.93,110.67h2.9v2.9h-2.9zM473.93,116.09h2.9v2.9h-2.9zM473.93,121.51h2.9v2.9h-2.9zM473.93,126.93h2.9v2.9h-2.9zM473.93,132.35h2.9v2.9h-2.9zM473.93,137.77h2.9v2.9h-2.9zM473.93,143.19h2.9v2.9h-2.9zM473.93,148.61h2.9v2.9h-2.9zM473.93,154.03h2.9v2.9h-2.9zM473.93,159.45h2.9v2.9h-2.9zM473.93,164.87h2.9v2.9h-2.9zM473.93,170.29h2.9v2.9h-2.9zM473.93,175.71h2.9v2.9h-2.9zM473.93,181.13h2.9v2.9h-2.9zM473.93,186.55h2.9v2.9h-2.9zM473.93,191.97h2.9v2.9h-2.9zM473.93,197.39h2.9v2.9h-2.9zM473.93,202.81h2.9v2.9h-2.9zM473.93,208.23h2.9v2.9h-2.9zM473.93,213.65h2.9v2.9h-2.9zM473.93,219.07h2.9v2.9h-2.9zM473.93,224.49h2.9v2.9h-2.9zM473.93,229.91h2.9v2.9h-2.9zM473.93,235.33h2.9v2.9h-2.9zM473.93,240.75h2.9v2.9h-2.9zM473.93,246.17h2.9v2.9h-2.9zM473.93,251.59h2.9v2.9h-2.9zM473.93,257.01h2.9v2.9h-2.9zM473.93,262.43h2.9v2.9h-2.9zM473.93,267.85h2.9v2.9h-2.9zM473.93,273.27h2.9v2.9h-2.9zM479.36,72.73h2.9v2.9h-2.9zM479.36,78.15h2.9v2.9h-2.9zM479.36,83.57h2.9v2.9h-2.9zM479.36,88.99h2.9v2.9h-2.9zM479.36,94.41h2.9v2.9h-2.9zM479.36,99.83h2.9v2.9h-2.9zM479.36,105.25h2.9v2.9h-2.9zM479.36,110.67h2.9v2.9h-2.9zM479.36,116.09h2.9v2.9h-2.9zM479.36,121.51h2.9v2.9h-2.9zM479.36,126.93h2.9v2.9h-2.9zM479.36,132.35h2.9v2.9h-2.9zM479.36,137.77h2.9v2.9h-2.9zM479.36,143.19h2.9v2.9h-2.9zM479.36,148.61h2.9v2.9h-2.9zM479.36,154.03h2.9v2.9h-2.9zM479.36,159.45h2.9v2.9h-2.9zM479.36,164.87h2.9v2.9h-2.9zM479.36,170.29h2.9v2.9h-2.9zM479.36,175.71h2.9v2.9h-2.9zM479.36,181.13h2.9v2.9h-2.9zM479.36,186.55h2.9v2.9h-2.9zM479.36,191.97h2.9v2.9h-2.9zM479.36,197.39h2.9v2.9h-2.9zM479.36,202.81h2.9v2.9h-2.9zM479.36,208.23h2.9v2.9h-2.9zM479.36,213.65h2.9v2.9h-2.9zM479.36,219.07h2.9v2.9h-2.9zM479.36,224.49h2.9v2.9h-2.9zM479.36,229.91h2.9v2.9h-2.9zM479.36,235.33h2.9v2.9h-2.9zM479.36,240.75h2.9v2.9h-2.9zM479.36,246.17h2.9v2.9h-2.9zM479.36,251.59h2.9v2.9h-2.9zM479.36,257.01h2.9v2.9h-2.9zM479.36,262.43h2.9v2.9h-2.9zM479.36,267.85h2.9v2.9h-2.9zM484.79,72.73h2.9v2.9h-2.9zM484.79,78.15h2.9v2.9h-2.9zM484.79,83.57h2.9v2.9h-2.9zM484.79,88.99h2.9v2.9h-2.9zM484.79,94.41h2.9v2.9h-2.9zM484.79,99.83h2.9v2.9h-2.9zM484.79,105.25h2.9v2.9h-2.9zM484.79,110.67h2.9v2.9h-2.9zM484.79,116.09h2.9v2.9h-2.9zM484.79,121.51h2.9v2.9h-2.9zM484.79,126.93h2.9v2.9h-2.9zM484.79,132.35h2.9v2.9h-2.9zM484.79,137.77h2.9v2.9h-2.9zM484.79,143.19h2.9v2.9h-2.9zM484.79,148.61h2.9v2.9h-2.9zM484.79,154.03h2.9v2.9h-2.9zM484.79,159.45h2.9v2.9h-2.9zM484.79,164.87h2.9v2.9h-2.9zM484.79,170.29h2.9v2.9h-2.9zM484.79,175.71h2.9v2.9h-2.9zM484.79,181.13h2.9v2.9h-2.9zM484.79,186.55h2.9v2.9h-2.9zM484.79,191.97h2.9v2.9h-2.9zM484.79,197.39h2.9v2.9h-2.9zM484.79,202.81h2.9v2.9h-2.9zM484.79,208.23h2.9v2.9h-2.9zM484.79,213.65h2.9v2.9h-2.9zM484.79,219.07h2.9v2.9h-2.9zM484.79,224.49h2.9v2.9h-2.9zM484.79,229.91h2.9v2.9h-2.9zM484.79,235.33h2.9v2.9h-2.9zM484.79,240.75h2.9v2.9h-2.9zM484.79,246.17h2.9v2.9h-2.9zM484.79,251.59h2.9v2.9h-2.9zM484.79,257.01h2.9v2.9h-2.9zM484.79,262.43h2.9v2.9h-2.9zM484.79,267.85h2.9v2.9h-2.9zM490.22,72.73h2.9v2.9h-2.9zM490.22,78.15h2.9v2.9h-2.9zM490.22,83.57h2.9v2.9h-2.9zM490.22,88.99h2.9v2.9h-2.9zM490.22,94.41h2.9v2.9h-2.9zM490.22,99.83h2.9v2.9h-2.9zM490.22,105.25h2.9v2.9h-2.9zM490.22,110.67h2.9v2.9h-2.9zM490.22,116.09h2.9v2.9h-2.9zM490.22,121.51h2.9v2.9h-2.9zM490.22,126.93h2.9v2.9h-2.9zM490.22,132.35h2.9v2.9h-2.9zM490.22,137.77h2.9v2.9h-2.9zM490.22,143.19h2.9v2.9h-2.9zM490.22,148.61h2.9v2.9h-2.9zM490.22,154.03h2.9v2.9h-2.9zM490.22,159.45h2.9v2.9h-2.9zM490.22,164.87h2.9v2.9h-2.9zM490.22,170.29h2.9v2.9h-2.9zM490.22,175.71h2.9v2.9h-2.9zM490.22,181.13h2.9v2.9h-2.9zM490.22,186.55h2.9v2.9h-2.9zM490.22,191.97h2.9v2.9h-2.9zM490.22,197.39h2.9v2.9h-2.9zM490.22,202.81h2.9v2.9h-2.9zM490.22,208.23h2.9v2.9h-2.9zM490.22,213.65h2.9v2.9h-2.9zM490.22,219.07h2.9v2.9h-2.9zM490.22,224.49h2.9v2.9h-2.9zM490.22,229.91h2.9v2.9h-2.9zM490.22,235.33h2.9v2.9h-2.9zM490.22,240.75h2.9v2.9h-2.9zM490.22,246.17h2.9v2.9h-2.9zM490.22,251.59h2.9v2.9h-2.9zM490.22,257.01h2.9v2.9h-2.9zM490.22,262.43h2.9v2.9h-2.9zM495.65,72.73h2.9v2.9h-2.9zM495.65,78.15h2.9v2.9h-2.9zM495.65,83.57h2.9v2.9h-2.9zM495.65,88.99h2.9v2.9h-2.9zM495.65,94.41h2.9v2.9h-2.9zM495.65,99.83h2.9v2.9h-2.9zM495.65,105.25h2.9v2.9h-2.9zM495.65,110.67h2.9v2.9h-2.9zM495.65,116.09h2.9v2.9h-2.9zM495.65,121.51h2.9v2.9h-2.9zM495.65,126.93h2.9v2.9h-2.9zM495.65,132.35h2.9v2.9h-2.9zM495.65,137.77h2.9v2.9h-2.9zM495.65,143.19h2.9v2.9h-2.9zM495.65,148.61h2.9v2.9h-2.9zM495.65,154.03h2.9v2.9h-2.9zM495.65,159.45h2.9v2.9h-2.9zM495.65,164.87h2.9v2.9h-2.9zM495.65,170.29h2.9v2.9h-2.9zM495.65,175.71h2.9v2.9h-2.9zM495.65,181.13h2.9v2.9h-2.9zM495.65,186.55h2.9v2.9h-2.9zM495.65,191.97h2.9v2.9h-2.9zM495.65,197.39h2.9v2.9h-2.9zM495.65,202.81h2.9v2.9h-2.9zM495.65,208.23h2.9v2.9h-2.9zM495.65,213.65h2.9v2.9h-2.9zM495.65,219.07h2.9v2.9h-2.9zM495.65,224.49h2.9v2.9h-2.9zM495.65,229.91h2.9v2.9h-2.9zM495.65,235.33h2.9v2.9h-2.9zM495.65,240.75h2.9v2.9h-2.9zM495.65,246.17h2.9v2.9h-2.9zM495.65,251.59h2.9v2.9h-2.9zM495.65,257.01h2.9v2.9h-2.9zM495.65,262.43h2.9v2.9h-2.9zM501.08,99.83h2.9v2.9h-2.9zM501.08,105.25h2.9v2.9h-2.9zM501.08,110.67h2.9v2.9h-2.9zM501.08,116.09h2.9v2.9h-2.9zM501.08,121.51h2.9v2.9h-2.9zM501.08,126.93h2.9v2.9h-2.9zM501.08,132.35h2.9v2.9h-2.9zM501.08,137.77h2.9v2.9h-2.9zM501.08,143.19h2.9v2.9h-2.9zM501.08,148.61h2.9v2.9h-2.9zM501.08,154.03h2.9v2.9h-2.9zM501.08,159.45h2.9v2.9h-2.9zM501.08,164.87h2.9v2.9h-2.9zM501.08,170.29h2.9v2.9h-2.9zM501.08,175.71h2.9v2.9h-2.9zM501.08,181.13h2.9v2.9h-2.9zM501.08,186.55h2.9v2.9h-2.9zM501.08,191.97h2.9v2.9h-2.9zM501.08,197.39h2.9v2.9h-2.9zM501.08,202.81h2.9v2.9h-2.9zM501.08,208.23h2.9v2.9h-2.9zM501.08,213.65h2.9v2.9h-2.9zM501.08,219.07h2.9v2.9h-2.9zM501.08,224.49h2.9v2.9h-2.9zM501.08,229.91h2.9v2.9h-2.9zM501.08,235.33h2.9v2.9h-2.9zM501.08,240.75h2.9v2.9h-2.9zM501.08,246.17h2.9v2.9h-2.9zM501.08,251.59h2.9v2.9h-2.9zM501.08,257.01h2.9v2.9h-2.9zM506.51,126.93h2.9v2.9h-2.9zM506.51,132.35h2.9v2.9h-2.9zM506.51,137.77h2.9v2.9h-2.9zM506.51,143.19h2.9v2.9h-2.9zM506.51,148.61h2.9v2.9h-2.9zM506.51,154.03h2.9v2.9h-2.9zM506.51,159.45h2.9v2.9h-2.9zM506.51,164.87h2.9v2.9h-2.9zM506.51,170.29h2.9v2.9h-2.9zM506.51,175.71h2.9v2.9h-2.9zM506.51,181.13h2.9v2.9h-2.9zM506.51,186.55h2.9v2.9h-2.9zM506.51,191.97h2.9v2.9h-2.9zM506.51,197.39h2.9v2.9h-2.9zM506.51,202.81h2.9v2.9h-2.9zM506.51,208.23h2.9v2.9h-2.9zM506.51,213.65h2.9v2.9h-2.9zM506.51,219.07h2.9v2.9h-2.9zM506.51,224.49h2.9v2.9h-2.9zM506.51,229.91h2.9v2.9h-2.9zM506.51,235.33h2.9v2.9h-2.9zM506.51,240.75h2.9v2.9h-2.9zM506.51,246.17h2.9v2.9h-2.9zM506.51,251.59h2.9v2.9h-2.9zM506.51,257.01h2.9v2.9h-2.9zM511.94,159.45h2.9v2.9h-2.9zM511.94,164.87h2.9v2.9h-2.9zM511.94,170.29h2.9v2.9h-2.9zM511.94,175.71h2.9v2.9h-2.9zM511.94,181.13h2.9v2.9h-2.9zM511.94,186.55h2.9v2.9h-2.9zM511.94,191.97h2.9v2.9h-2.9zM511.94,197.39h2.9v2.9h-2.9zM511.94,202.81h2.9v2.9h-2.9zM511.94,208.23h2.9v2.9h-2.9zM511.94,213.65h2.9v2.9h-2.9zM511.94,219.07h2.9v2.9h-2.9zM511.94,224.49h2.9v2.9h-2.9zM511.94,229.91h2.9v2.9h-2.9zM511.94,235.33h2.9v2.9h-2.9zM511.94,240.75h2.9v2.9h-2.9zM511.94,246.17h2.9v2.9h-2.9zM511.94,251.59h2.9v2.9h-2.9zM517.37,191.97h2.9v2.9h-2.9zM517.37,197.39h2.9v2.9h-2.9zM517.37,202.81h2.9v2.9h-2.9zM517.37,208.23h2.9v2.9h-2.9zM517.37,213.65h2.9v2.9h-2.9zM517.37,219.07h2.9v2.9h-2.9zM517.37,224.49h2.9v2.9h-2.9zM517.37,229.91h2.9v2.9h-2.9zM517.37,235.33h2.9v2.9h-2.9zM517.37,240.75h2.9v2.9h-2.9zM517.37,246.17h2.9v2.9h-2.9zM517.37,251.59h2.9v2.9h-2.9z" fill="none" stroke="#5a5a5a" stroke-width="1" clip-path="url(#cclip)"/>
<g fill="none" stroke="#4e4e4e" stroke-width="1.1" stroke-linejoin="round" stroke-linecap="round">
<path d="M310,623.1 C314.73,602.07 320.74,578.71 324.2,560 C326.93,545.21 328.4,534.71 330,520 C331.96,502.05 333.68,474.65 334.4,460 C334.82,451.55 334.92,447.34 334.9,440 C334.88,431.01 334.52,419.99 334,410 C333.48,399.99 332.58,390 331.8,380 C331.02,370 330.7,361.69 329.3,350 C327.31,333.4 322.96,309.08 319.9,290 C317.11,272.57 315.16,257 311.7,240 C308.04,222.03 300.54,195.27 298.3,185 C297.43,181.03 297.07,179.39 296.7,176.7 C296.36,174.2 296,171.77 296.1,169.4 C296.19,167.14 296.47,165.04 297.2,162.8 C298.03,160.25 299.22,157.01 301.1,155 C302.94,153.04 305.54,152.62 308.3,150.8 C312.38,148.11 317.81,143.62 322.9,140 C328.34,136.13 333.03,132.8 340,128.3 C350.47,121.54 366.32,111.94 380,104 C394.07,95.83 408.91,87.54 423.3,80 C437.24,72.7 456.42,63.64 465,59.4 C468.83,57.51 470.67,56.56 473.3,55.3 C475.65,54.18 477.67,52.71 480,52.2 C482.3,51.69 484.98,51.82 487.2,52.2 C489.22,52.55 490.92,53.68 492.8,54.2 C494.62,54.71 496.52,54.58 498.3,55.3 C500.23,56.08 502.38,57.48 503.9,58.9 C505.28,60.19 506.31,61.6 507.2,63.3 C508.21,65.23 508.58,67.03 509.4,70 C510.96,75.66 513.45,86.64 515,95 C516.54,103.31 517.11,109.88 518.7,120 C521.17,135.7 525.93,159.96 528.7,180 C531.46,199.96 533.45,221.43 535.3,240 C536.9,256.07 538.46,273.31 539.3,285 C539.83,292.44 539.97,297.2 540.3,303.3"/>
<path d="M355.6,422 C355.67,418 355.94,414.9 355.8,410 C355.58,402.25 354.36,388.99 353.6,380 C352.98,372.66 352.6,367.8 351.7,360 C350.43,348.94 348.25,332.36 346.3,320 C344.61,309.26 343.13,301.25 340.9,290 C338.02,275.43 334.27,257 330.1,240 C325.7,222.04 317.92,193.45 315,185 C314.1,182.39 313.37,181.64 312.9,180 C312.48,178.51 312.32,177.08 312.2,175.6 C312.08,174.11 312.07,172.66 312.2,171.1 C312.34,169.4 312.62,167.58 313.1,165.8 C313.62,163.89 314.34,161.84 315.3,160 C316.27,158.13 317.52,156.08 318.9,154.7 C320.1,153.51 321.11,153.23 322.9,152 C326.62,149.44 333.03,144.62 340,140 C350.47,133.06 368.94,121.85 380,115 C387.8,110.16 392.1,107.21 400,102.7 C410.96,96.43 428.49,87.55 440,81.5 C448.71,76.92 455.46,73.39 463,69.5 C470.25,65.76 477.27,62.23 484.4,58.6"/>
<path d="M357.1,464.9 C355.47,483.27 354.26,503.13 352.2,520 C350.44,534.43 349.3,544.92 346,560 C341.56,580.25 332.67,606.8 326,630.2"/>
<path d="M370.9,470.7 C369.13,487.13 367.74,504.45 365.6,520 C363.67,534.06 362.3,545.51 358.9,560 C354.72,577.82 347.03,599.13 341.1,618.7"/>
<path d="M310,623.1 L326,630.2 L341.1,618.7"/>
<path d="M366,343.8 L369.6,390.2"/>
<path d="M308.3,150.8 L322.9,152 L327.1,163.1"/>
<path d="M473.3,55.3 L484.4,58.6 L487.5,71.1"/>
<path d="M484.4,58.6 L492.6,55"/>
<path d="M327.1,163.1 C329.63,160.77 335.16,156.76 340,153.4 C345.87,149.32 353.31,144.79 360,140.6 C366.65,136.43 373.32,132.36 380,128.3 C386.66,124.26 392.14,120.83 400,116.3 C411,109.96 428.16,100.38 440,94.2 C449.24,89.38 457.73,85.51 465,81.9 C470.64,79.1 475.82,76.35 480,74.4 C482.94,73.03 485.2,71.75 487.6,71.1 C489.59,70.56 491.66,70.08 493.3,70.4 C494.69,70.67 495.99,71.5 496.9,72.4 C497.76,73.25 498.26,74.41 498.7,75.6 C499.19,76.92 499.28,78.38 499.6,80 C500,82 500.47,84.48 500.9,86.7 C501.33,88.91 501.75,91.09 502.2,93.3 C502.65,95.53 503.06,97.17 503.6,100 C504.54,104.88 505.62,111.55 507.1,120 C509.66,134.64 514.78,161.41 517.6,180 C520.04,196.05 522.34,215.76 523.4,225 C523.87,229.1 524.01,231.05 524.3,233.9 C524.57,236.53 525.03,239.25 525.1,241.5 C525.16,243.28 525.22,244.84 524.9,246.3 C524.61,247.61 524.07,248.79 523.4,249.9 C522.71,251.03 521.8,252.05 520.8,253 C519.75,254 518.5,254.9 517.2,255.7 C515.84,256.54 514.54,257.12 512.8,257.9 C510.37,258.98 506.64,260.21 503.9,261.4 C501.49,262.45 499.95,263.28 497.2,264.6 C492.79,266.72 486.88,269.4 480,272.9 C469.39,278.29 453.25,286.81 440,294.3 C426.58,301.9 410.01,311.53 400,318.2 C393.67,322.42 390.21,325.41 385,329.3 C379.31,333.55 370.76,340.53 367.2,342.7 C365.8,343.55 365.12,343.93 364.1,344.2 C363.19,344.44 362.21,344.64 361.4,344.4 C360.58,344.15 359.76,343.5 359.2,342.7 C358.51,341.72 358.27,340.35 357.9,338.7 C357.33,336.17 357.06,332.09 356.6,328.9 C356.16,325.86 356,324.44 355.2,320 C352.8,306.65 343.81,262.75 339,240 C335.41,223.02 332.58,206.51 329.2,195.6 C327.14,188.96 323.85,183.88 322.9,180 C322.37,177.82 322.39,176.39 322.4,174.7 C322.41,173.14 322.53,171.67 322.9,170.2 C323.28,168.7 323.93,167.03 324.7,165.8 C325.37,164.72 325.9,164.2 327.1,163.1Z"/>
<path d="M328.7,166.6 C331.03,164.88 335.68,161.66 340,158.7 C345.7,154.8 353.33,149.75 360,145.3 C366.66,140.85 373.3,136.32 380,132 C386.64,127.72 392.11,124.1 400,119.5 C410.97,113.11 428.18,103.98 440,97.8 C449.27,92.95 457.72,88.83 465,85.2 C470.63,82.39 475.43,79.73 480,77.8 C483.68,76.25 487.76,74.42 490.2,74.2 C491.51,74.08 492.47,74.22 493.3,74.7 C494.09,75.15 494.62,75.94 495.1,76.9 C495.76,78.23 495.97,80.33 496.4,82.2 C496.88,84.3 497.35,86.67 497.8,88.9 C498.25,91.13 498.7,93.6 499.1,95.6 C499.42,97.22 499.62,98 500,100 C500.82,104.25 502.06,111.55 503.6,120 C506.26,134.64 511.72,161.4 514.6,180 C517.08,196.04 519.46,215.76 520.3,225 C520.67,229.1 520.63,231.05 520.8,233.9 C520.96,236.53 521.25,239.26 521.3,241.5 C521.34,243.28 521.47,244.84 521.2,246.3 C520.96,247.61 520.59,248.92 519.9,249.9 C519.24,250.83 518.26,251.47 517.2,252.1 C515.96,252.84 514.53,253.21 512.8,253.9 C510.35,254.88 506.84,256.08 503.9,257.4 C500.9,258.74 498.37,260.26 495,261.9 C490.66,264.01 486.15,265.83 480,268.9 C469.82,273.98 453.22,282.64 440,290.2 C426.55,297.89 410.02,307.94 400,314.7 C393.68,318.96 390.13,321.94 385,325.8 C379.52,329.92 371.85,336.26 368.1,338.7 C366.36,339.83 365.34,340.7 364.1,340.9 C363.14,341.05 362.09,340.89 361.4,340.4 C360.67,339.89 360.29,338.98 359.9,337.8 C359.22,335.76 359.22,331.86 358.8,328.9 C358.38,325.93 358.18,324.44 357.4,320 C355.04,306.65 346.57,262.73 341.7,240 C338.06,223 334.49,206.56 331.4,195.6 C329.54,189.02 327.17,183.63 326.2,180 C325.69,178.1 325.44,177 325.3,175.6 C325.17,174.35 325.12,173.19 325.3,172 C325.48,170.79 325.77,169.32 326.4,168.4 C326.96,167.59 327.63,167.39 328.7,166.6Z"/>
<path d="M367.2,353.8 C373.13,349.5 379.31,344.99 385,340.9 C390.21,337.16 393.71,334.36 400,330.2 C410.04,323.56 426.53,313.31 440,305.7 C453.2,298.24 466.79,291.3 480,284.9 C492.62,278.78 505,273.63 517.5,268"/>
<path d="M516.8,256.1 L520.7,304.3"/>
<path d="M502,275 L504.7,312.3"/>
<path d="M355.3,436 C355.3,434 355.3,431.97 355.3,430 C355.3,428.1 355.16,426.36 355.3,424.4 C355.46,422.21 355.84,419.74 356.3,417.5 C356.75,415.31 357.23,413.24 358,411.1 C358.83,408.81 360.01,406.42 361.2,404.2 C362.38,401.99 363.81,399.76 365.1,397.8 C366.24,396.06 367.3,394.5 368.5,393 C369.67,391.54 370.69,390.23 372.2,388.9 C374.05,387.28 376.51,385.7 379,384.2 C381.79,382.52 384.08,381.67 388.2,379.4 C396.99,374.56 415.38,363.59 429,355.7 C442.65,347.79 457.98,338.77 470,332 C479.33,326.75 488.64,322.01 495,318.3 C499.02,315.96 501.58,314.04 504.7,312.3 C507.46,310.76 510.03,309.63 512.7,308.3 C515.37,306.97 518.31,305.27 520.7,304.3 C522.53,303.55 523.89,303.04 525.7,302.7 C527.73,302.32 530,302.23 532.3,302.3 C534.84,302.38 537.67,302.65 540.3,303.3 C543.01,303.97 545.78,305.21 548.3,306.3 C550.66,307.32 551.76,308.06 555,309.6 C563.34,313.57 585.01,323.37 600,330.3 C615.01,337.24 629.99,344.28 645,351.2 C659.99,358.11 677.61,366.23 690,371.8 C698.68,375.7 705.42,378.52 712.2,381.6 C717.99,384.23 723.61,386.48 728.2,389.1 C731.96,391.25 735.23,393.34 738,395.8 C740.46,397.99 742.55,400.33 744.2,402.9 C745.79,405.38 747.05,408.1 747.8,410.9 C748.56,413.73 748.94,417.12 748.7,419.8 C748.49,422.08 747.85,424.19 746.9,426 C746.01,427.7 744.9,428.91 743.3,430.4 C741.09,432.46 738.07,434.34 734.4,436.7 C728.89,440.25 720.2,444.97 713.1,449.1"/>
<path d="M713.1,449.1 L542,548.7"/>
<path d="M548,545.3 C546,546.43 544.12,547.71 542,548.7 C539.8,549.73 537.47,550.64 535,551.3 C532.38,552 529.42,552.68 526.7,552.7 C524.09,552.72 521.55,552.21 519,551.5 C516.31,550.75 513.42,549.49 511,548.2 C508.79,547.02 507,545.53 505,544.2"/>
<path d="M505,544.2 L355.3,436"/>
<path d="M366,397.8 C368.67,397.27 371.26,395.86 374,396.2 C377.17,396.6 380.53,399.33 383.8,400.9"/>
<path d="M532.7,302.7 L532.7,319"/>
<path d="M705.6,387.3 C709.3,388.5 713.11,389.35 716.7,390.9 C720.35,392.47 724.11,394.54 727.3,396.7 C730.26,398.7 732.86,401.01 735.3,403.3 C737.6,405.45 739.94,407.6 741.6,410 C743.14,412.22 744.37,414.76 745.1,417.1 C745.75,419.18 745.95,421.4 746,423.3 C746.04,424.92 745.73,426.3 745.6,427.8"/>
<path d="M531.6,487.7 C530.63,491.8 529.45,495.67 528.7,500 C527.88,504.73 527.33,509.99 527,515 C526.67,519.99 526.76,524.48 526.7,530 C526.63,536.79 526.7,545.13 526.7,552.7"/>
<path d="M357.6,437 L357.8,462.5" stroke-width="1.6" stroke="#777"/>
<path d="M358.9,462.2 C369.27,469.33 376.97,474.55 390,483.6 C412.24,499.05 457.78,531.68 480,546.7 C492.83,555.37 500.47,560.03 510.7,566.7"/>
<path d="M542,567.3 L600,533.3 L722.7,463.3 L722.7,444.7"/>
<path d="M510.7,548.7 C511.13,565.8 511.45,580.07 512,600 C512.77,627.82 514.13,671.7 515,700 C515.64,720.87 516.13,736.27 516.7,754.4"/>
<path d="M542,549.3 C541.77,566.2 541.73,580.26 541.3,600 C540.69,627.73 539.09,671.7 538.3,700 C537.72,720.87 537.37,736.27 536.9,754.4"/>
<path d="M516.7,754.4 Q526.8,767.6 536.9,754.4"/>
<path d="M712.7,470 C713.13,493.33 713.69,523.74 714,540 C714.17,548.69 714.2,551.07 714.4,560 C714.8,578.1 715.73,614.8 716.4,642.2"/>
<path d="M742.4,432.6 C741.93,448.4 741.48,463.27 741,480 C740.46,498.82 739.47,525.36 739.3,540 C739.2,548.45 739.54,551.07 739.4,560 C739.12,578.1 737.4,614.8 736.4,642.2"/>
<path d="M716.4,642.2 Q726.4,650.2 736.4,642.2"/>
<path d="M698.7,477.3 L712.7,484"/>
<path d="M687.3,484 L712.7,495.3"/>
</g>
<path d="M364.7,494.9 L512,598.3 L511.6,611.6 L359.3,504 A2.6,5.3 35 0 1 364.7,494.9Z" fill="#fff" stroke="#4e4e4e" stroke-width="1.1"/>
<path d="M511.2,570 L512,612" stroke="#4e4e4e" stroke-width="1.1" fill="none"/>
<g stroke="#2e2e2e" fill="none">
<line x1="295.3" y1="20.5" x2="295.3" y2="160.5" stroke-dasharray="6.1 4.5" stroke-width="1.2"/>
<line x1="506.5" y1="18.3" x2="506.5" y2="59" stroke-dasharray="5.4 4 7.6 4.4 7.6 4.4 7 10" stroke-width="1.2"/>
<line x1="166.7" y1="159.2" x2="297.2" y2="159.2" stroke-dasharray="6.3 3.55" stroke-width="1.2"/>
<line x1="220" y1="391.2" x2="369.6" y2="391.2" stroke-dasharray="5.8 3.0" stroke-width="1.2"/>
<line x1="268.6" y1="461.4" x2="355.5" y2="461.4" stroke-dasharray="9.2 4.4" stroke-width="1.2"/>
<line x1="164.7" y1="623.8" x2="310" y2="623.8" stroke-dasharray="6.9 3.1" stroke-width="1.2"/>
<line x1="296.4" y1="629.2" x2="296.4" y2="882" stroke-dasharray="8.9 4.6" stroke-width="1.2"/>
<line x1="309.6" y1="625" x2="309.6" y2="836.4" stroke-dasharray="8.5 5" stroke-width="1.2"/>
<line x1="326" y1="633.3" x2="326" y2="796.1" stroke-dasharray="7.1 4" stroke-width="1.2"/>
<line x1="516.4" y1="763.3" x2="516.4" y2="795.5" stroke-dasharray="7 3" stroke-width="1.2"/>
<line x1="526.5" y1="763.3" x2="526.5" y2="880.7" stroke-dasharray="4.2 2.3" stroke-width="1.2"/>
<line x1="536.6" y1="763.3" x2="536.6" y2="796.2" stroke-dasharray="7 3" stroke-width="1.2"/>
<line x1="716.2" y1="643.6" x2="716.2" y2="789.4" stroke-dasharray="7 3" stroke-width="1.2"/>
<line x1="736.4" y1="648.9" x2="736.4" y2="827" stroke-dasharray="9.5 3.5" stroke-width="1.2"/>
</g>
<path d="M295.5,27.5 L506.5,27.5" stroke="#000" stroke-width="1.2" fill="none"/>
<path d="M295.5,27.5 L307.3,22.2 L306.2,27.5 L307.3,32.8Z" fill="#000"/>
<path d="M506.5,27.5 L494.7,32.8 L495.8,27.5 L494.7,22.2Z" fill="#000"/>
<path d="M176.6,160 L176.6,623.4" stroke="#000" stroke-width="1.2" fill="none"/>
<path d="M176.6,160 L181.9,171.8 L176.6,170.7 L171.3,171.8Z" fill="#000"/>
<path d="M176.6,623.4 L171.3,611.6 L176.6,612.7 L181.9,611.6Z" fill="#000"/>
<path d="M233.1,391.1 L233.1,623.4" stroke="#000" stroke-width="1.2" fill="none"/>
<path d="M233.1,391.1 L238.4,402.9 L233.1,401.8 L227.8,402.9Z" fill="#000"/>
<path d="M233.1,623.4 L227.8,611.6 L233.1,612.7 L238.4,611.6Z" fill="#000"/>
<path d="M287.2,461.3 L287.2,623.4" stroke="#000" stroke-width="1.2" fill="none"/>
<path d="M287.2,461.3 L292.5,473.1 L287.2,472 L281.9,473.1Z" fill="#000"/>
<path d="M287.2,623.4 L281.9,611.6 L287.2,612.7 L292.5,611.6Z" fill="#000"/>
<path d="M406.7,98.3 L457.5,335.9" stroke="#000" stroke-width="1.2" fill="none"/>
<path d="M406.7,98.3 L414.35,108.73 L408.94,108.76 L403.98,110.95Z" fill="#000"/>
<path d="M457.5,335.9 L449.85,325.47 L455.26,325.44 L460.22,323.25Z" fill="#000"/>
<path d="M449.8,346 L649.3,480" stroke="#000" stroke-width="1.2" fill="none"/>
<path d="M449.8,346 L462.55,348.18 L458.68,351.97 L456.64,356.98Z" fill="#000"/>
<path d="M649.3,480 L636.55,477.82 L640.42,474.03 L642.46,469.02Z" fill="#000"/>
<path d="M509.4,537 L740.3,405.4" stroke="#000" stroke-width="1.2" fill="none"/>
<path d="M509.4,537 L517.03,526.55 L518.7,531.7 L522.28,535.76Z" fill="#000"/>
<path d="M740.3,405.4 L732.67,415.85 L731,410.7 L727.42,406.64Z" fill="#000"/>
<path d="M496.4,555.6 L496.4,586.6" stroke="#000" stroke-width="1.2" fill="none"/>
<path d="M496.4,555.6 L501.7,567.4 L496.4,566.3 L491.1,567.4Z" fill="#000"/>
<path d="M496.4,586.6 L491.1,574.8 L496.4,575.9 L501.7,574.8Z" fill="#000"/>
<path d="M496.2,607.2 L496.2,758.3" stroke="#000" stroke-width="1.2" fill="none"/>
<path d="M496.2,607.2 L501.5,619 L496.2,617.9 L490.9,619Z" fill="#000"/>
<path d="M496.2,758.3 L490.9,746.5 L496.2,747.6 L501.5,746.5Z" fill="#000"/>
<path d="M326.1,787.4 L516.3,787.4" stroke="#000" stroke-width="1.2" fill="none"/>
<path d="M326.1,787.4 L337.9,782.1 L336.8,787.4 L337.9,792.7Z" fill="#000"/>
<path d="M516.3,787.4 L504.5,792.7 L505.6,787.4 L504.5,782.1Z" fill="#000"/>
<path d="M537.2,787.4 L716.3,787.4" stroke="#000" stroke-width="1.2" fill="none"/>
<path d="M537.2,787.4 L549,782.1 L547.9,787.4 L549,792.7Z" fill="#000"/>
<path d="M716.3,787.4 L704.5,792.7 L705.6,787.4 L704.5,782.1Z" fill="#000"/>
<path d="M309.4,827.4 L526.7,827.4" stroke="#000" stroke-width="1.2" fill="none"/>
<path d="M309.4,827.4 L321.2,822.1 L320.1,827.4 L321.2,832.7Z" fill="#000"/>
<path d="M526.7,827.4 L514.9,832.7 L516,827.4 L514.9,822.1Z" fill="#000"/>
<path d="M527.2,827.4 L736.7,827.4" stroke="#000" stroke-width="1.2" fill="none"/>
<path d="M527.2,827.4 L539,822.1 L537.9,827.4 L539,832.7Z" fill="#000"/>
<path d="M736.7,827.4 L724.9,832.7 L726,827.4 L724.9,822.1Z" fill="#000"/>
<path d="M296.1,868 L526.7,868" stroke="#000" stroke-width="1.2" fill="none"/>
<path d="M296.1,868 L307.9,862.7 L306.8,868 L307.9,873.3Z" fill="#000"/>
<path d="M526.7,868 L514.9,873.3 L516,868 L514.9,862.7Z" fill="#000"/>
<g font-family="Liberation Sans, sans-serif" font-weight="bold" font-size="18" fill="#000">
<rect x="373.3" y="18" width="63.9" height="20" fill="#fff"/>
<g transform="translate(378.13,33.15) scale(1.035,1)"><text> 7.00”</text><path transform="translate(0,0)" d="M4.55,0 L7.0,0 L7.0,-12.38 L5.25,-12.38 C4.7,-11.3 3.3,-10.1 1.35,-9.3 L1.35,-7.35 C2.6,-7.85 3.75,-8.55 4.55,-9.2 Z"/></g>
<rect x="150" y="345.6" width="62" height="27.2" fill="#fff"/>
<g transform="translate(153.06,364.55) scale(1.035,1)"><text>35.00”</text></g>
<rect x="204" y="480.1" width="61" height="27.2" fill="#fff"/>
<g transform="translate(206.48,501.35) scale(1.035,1)"><text> 9.50”</text><path transform="translate(0,0)" d="M4.55,0 L7.0,0 L7.0,-12.38 L5.25,-12.38 C4.7,-11.3 3.3,-10.1 1.35,-9.3 L1.35,-7.35 C2.6,-7.85 3.75,-8.55 4.55,-9.2 Z"/></g>
<rect x="260" y="527.8" width="60" height="23.3" fill="#fff"/>
<g transform="translate(262.73,546.4) scale(1.035,1)"><text> 4.50”</text><path transform="translate(0,0)" d="M4.55,0 L7.0,0 L7.0,-12.38 L5.25,-12.38 C4.7,-11.3 3.3,-10.1 1.35,-9.3 L1.35,-7.35 C2.6,-7.85 3.75,-8.55 4.55,-9.2 Z"/></g>
<rect x="402" y="202" width="60.2" height="21.4" fill="#fff"/>
<g transform="translate(405.68,218.55) scale(1.035,1)"><text> 6.25”</text><path transform="translate(0,0)" d="M4.55,0 L7.0,0 L7.0,-12.38 L5.25,-12.38 C4.7,-11.3 3.3,-10.1 1.35,-9.3 L1.35,-7.35 C2.6,-7.85 3.75,-8.55 4.55,-9.2 Z"/></g>
<g transform="translate(540.28,404.4) scale(1.035,1)"><text> 8.50”</text><path transform="translate(0,0)" d="M4.55,0 L7.0,0 L7.0,-12.38 L5.25,-12.38 C4.7,-11.3 3.3,-10.1 1.35,-9.3 L1.35,-7.35 C2.6,-7.85 3.75,-8.55 4.55,-9.2 Z"/></g>
<g transform="translate(547.65,481.9) scale(1.035,1)"><text>20.00”</text></g>
<rect x="436.9" y="556.5" width="52.4" height="26.5" fill="#fff"/>
<g transform="translate(441.44,577.3) scale(1.035,1)"><text>3.25”</text></g>
<g transform="translate(439.13,673.3) scale(1.035,1)"><text> 0.50”</text><path transform="translate(0,0)" d="M4.55,0 L7.0,0 L7.0,-12.38 L5.25,-12.38 C4.7,-11.3 3.3,-10.1 1.35,-9.3 L1.35,-7.35 C2.6,-7.85 3.75,-8.55 4.55,-9.2 Z"/></g>
<rect x="397.2" y="777" width="63.4" height="20" fill="#fff"/>
<g transform="translate(401.63,793) scale(1.035,1)"><text> 7.00”</text><path transform="translate(0,0)" d="M4.55,0 L7.0,0 L7.0,-12.38 L5.25,-12.38 C4.7,-11.3 3.3,-10.1 1.35,-9.3 L1.35,-7.35 C2.6,-7.85 3.75,-8.55 4.55,-9.2 Z"/></g>
<rect x="603.3" y="777" width="63.9" height="20" fill="#fff"/>
<g transform="translate(608.13,793) scale(1.035,1)"><text> 6.00”</text><path transform="translate(0,0)" d="M4.55,0 L7.0,0 L7.0,-12.38 L5.25,-12.38 C4.7,-11.3 3.3,-10.1 1.35,-9.3 L1.35,-7.35 C2.6,-7.85 3.75,-8.55 4.55,-9.2 Z"/></g>
<rect x="388.3" y="817" width="63.9" height="20" fill="#fff"/>
<g transform="translate(393.43,832.9) scale(1.035,1)"><text> 9.75”</text><path transform="translate(0,0)" d="M4.55,0 L7.0,0 L7.0,-12.38 L5.25,-12.38 C4.7,-11.3 3.3,-10.1 1.35,-9.3 L1.35,-7.35 C2.6,-7.85 3.75,-8.55 4.55,-9.2 Z"/></g>
<rect x="603.3" y="817" width="63.9" height="20" fill="#fff"/>
<g transform="translate(608.13,832.9) scale(1.035,1)"><text> 8.50”</text><path transform="translate(0,0)" d="M4.55,0 L7.0,0 L7.0,-12.38 L5.25,-12.38 C4.7,-11.3 3.3,-10.1 1.35,-9.3 L1.35,-7.35 C2.6,-7.85 3.75,-8.55 4.55,-9.2 Z"/></g>
<rect x="383.9" y="858" width="63.3" height="20" fill="#fff"/>
<g transform="translate(388.75,873.75) scale(1.035,1)"><text>22.50”</text></g>
</g>
</svg>
</body></html>
